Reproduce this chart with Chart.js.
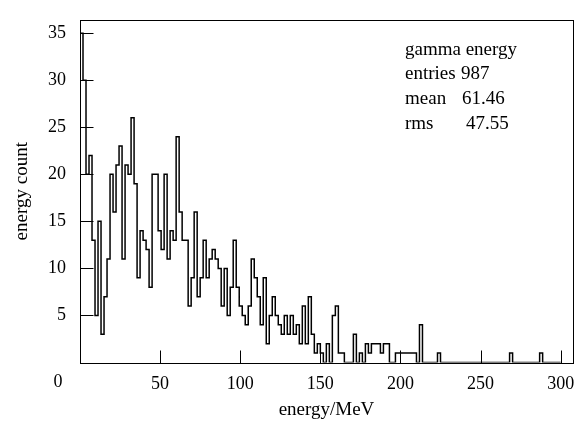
<!DOCTYPE html>
<html>
<head>
<meta charset="utf-8">
<script src="https://cdn.jsdelivr.net/npm/chart.js@4.4.1/dist/chart.umd.min.js"></script>
<style>
  html, body { margin: 0; padding: 0; background: #fff; }
  #wrap { width: 581px; height: 424px; }
</style>
</head>
<body>
<div id="wrap"><canvas id="myChart" width="581" height="424"></canvas></div>
<script>
// histogram: 160 bins between 0 and 300 MeV
const binWidth = 1.875;
const counts = [
    35, 30, 20, 22, 13, 5, 15, 3, 7, 11, 20, 16, 21, 23, 11, 21, 20, 26, 19, 9,
    14, 13, 12, 8, 20, 20, 14, 12, 20, 11, 14, 13, 24, 16, 13, 13, 6, 9, 16, 7,
    9, 13, 9, 11, 12, 11, 10, 6, 10, 5, 8, 13, 8, 6, 5, 4, 6, 11, 9, 7,
    4, 9, 2, 5, 7, 5, 4, 3, 5, 3, 5, 3, 4, 2, 6, 2, 7, 3, 1, 2,
    1, 0, 2, 0, 5, 6, 1, 1, 0, 0, 0, 3, 0, 1, 0, 2, 1, 2, 2, 2,
    1, 2, 2, 0, 0, 1, 1, 1, 1, 1, 1, 1, 0, 4, 0, 0, 0, 0, 0, 1,
    0, 0, 0, 0, 0, 0, 0, 0, 0, 0, 0, 0, 0, 0, 0, 0, 0, 0, 0, 0,
    0, 0, 0, 1, 0, 0, 0, 0, 0, 0, 0, 0, 0, 1, 0, 0, 0, 0, 0, 0
];
const xTicks = [0, 50, 100, 150, 200, 250, 300];
const yTicks = [5, 10, 15, 20, 25, 30, 35];
const statsTitle = 'gamma energy';
const statsLabels = ['entries', 'mean', 'rms'];
const statsValues = ['987', '61.46', '47.55'];

const serif = "'Liberation Serif', 'DejaVu Serif', serif";

// step outline points: left edge of each bin, then the closing edge
const points = [{ x: 0, y: 0 }];
counts.forEach((c, i) => points.push({ x: i * binWidth, y: c }));
points.push({ x: counts.length * binWidth, y: 0 });

const frame = {
    id: 'frame',
    afterDraw(chart) {
        const { ctx, chartArea: a, scales: { x, y } } = chart;
        const l = Math.round(a.left) + 0.5, r = Math.round(a.right) + 0.5;
        const t = Math.round(a.top) + 0.5, b = Math.round(a.bottom) + 0.5;
        ctx.save();
        ctx.strokeStyle = '#000';
        ctx.lineWidth = 1;
        ctx.strokeRect(l, t, r - l, b - t);
        ctx.beginPath();
        yTicks.forEach(v => {
            const py = Math.round(y.getPixelForValue(v)) + 0.5;
            ctx.moveTo(l, py);
            ctx.lineTo(l + 13, py);
        });
        xTicks.forEach(v => {
            const px = Math.round(x.getPixelForValue(v)) + 0.5;
            ctx.moveTo(px, b);
            ctx.lineTo(px, b - 13);
        });
        ctx.stroke();

        ctx.fillStyle = '#000';
        ctx.font = '18px ' + serif;
        ctx.textAlign = 'center';
        ctx.textBaseline = 'top';
        ctx.fillText('0', x.getPixelForValue(0) - 22, x.top + 11);

        ctx.font = '19px ' + serif;
        ctx.textAlign = 'left';
        ctx.textBaseline = 'middle';
        ctx.fillText(statsTitle, 405, 50);
        const valueX = [461, 462, 466];
        statsLabels.forEach((s, i) => {
            ctx.fillText(s, 405, 74 + i * 25);
            ctx.fillText(statsValues[i], valueX[i], 74 + i * 25);
        });
        ctx.restore();
    }
};

const ctx = document.getElementById('myChart');
new Chart(ctx, {
    type: 'line',
    data: {
        datasets: [{
            data: points,
            stepped: true,
            borderColor: '#000',
            borderWidth: 1.5,
            pointRadius: 0,
            fill: false,
        }]
    },
    options: {
        responsive: false,
        animation: false,
        devicePixelRatio: 1,
        layout: { padding: { left: 0, right: 8, top: 20, bottom: 0 } },
        plugins: { legend: { display: false }, tooltip: { enabled: false } },
        scales: {
            x: {
                type: 'linear',
                min: 0,
                max: 307.7,
                afterFit: s => {
                    s.height = 61.5;
                    s.paddingLeft = 0;
                    s.paddingRight = 0;
                },
                afterBuildTicks: s => { s.ticks = xTicks.map(v => ({ value: v })); },
                grid: { display: false, drawTicks: false },
                border: { display: false },
                ticks: {
                    color: '#000',
                    padding: 11,
                    maxRotation: 0,
                    font: { family: serif, size: 18 },
                    callback: v => (v === 0 ? '' : String(v)),
                },
                title: {
                    display: true,
                    text: 'energy/MeV',
                    color: '#000',
                    font: { family: serif, size: 19 },
                    padding: { top: 0, bottom: 3 },
                },
            },
            y: {
                min: 0,
                max: 36.4,
                afterFit: s => {
                    s.width = 80;
                    s.paddingTop = 0;
                    s.paddingBottom = 0;
                },
                afterBuildTicks: s => { s.ticks = yTicks.map(v => ({ value: v })); },
                grid: { display: false, drawTicks: false },
                border: { display: false },
                ticks: {
                    color: '#000',
                    padding: 14,
                    font: { family: serif, size: 18 },
                },
                title: {
                    display: true,
                    text: 'energy count',
                    color: '#000',
                    font: { family: serif, size: 19 },
                    padding: { top: 11, bottom: 0 },
                },
            },
        },
    },
    plugins: [frame],
});
</script>
</body>
</html>
